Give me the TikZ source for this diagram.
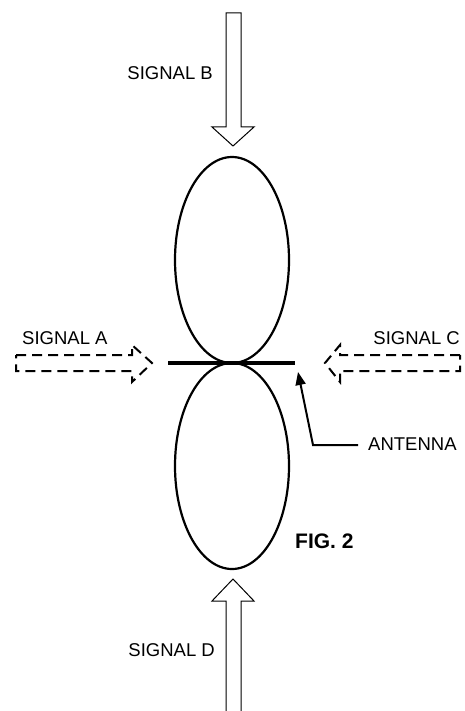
\documentclass[tikz,border=0pt]{standalone}
\usepackage{fontspec}
\setmainfont{Liberation Sans}
\usetikzlibrary{arrows.meta}
\begin{document}
\begin{tikzpicture}[x=1pt,y=-1pt,
  lbl/.style={font=\fontsize{18.5}{20}\selectfont, inner sep=0pt},
  figlbl/.style={font=\fontsize{21}{23}\selectfont\bfseries, inner sep=0pt},
  hollow/.style={draw=black, line width=1pt, fill=white, line join=miter},
  dasharrow/.style={draw=black, line width=2pt, dash pattern=on 10pt off 6pt},
  lobe/.style={draw=black, line width=2.2pt},
  rod/.style={draw=black, line width=4pt},
  pointer/.style={draw=black, line width=2pt, -{Triangle[length=13pt,width=10pt]}}]
\fill[white] (0,0) rectangle (465,711);
\path[use as bounding box] (0,0) rectangle (465,711);
% lobes
\draw[lobe] (232,260) ellipse [x radius=57, y radius=103];
\draw[lobe] (232,466) ellipse [x radius=57, y radius=103];
% antenna rod
\draw[rod] (168,363) -- (295,363);
% signal B (from top)
\draw[hollow] (226,13) -- (241,13) -- (241,127) -- (254,127) -- (233,146) -- (212,127) -- (226,127) -- cycle;
% signal D (from bottom)
\draw[hollow] (226,715) -- (226,601) -- (212,601) -- (233,579) -- (254,601) -- (241,601) -- (241,715);
% signal A (dashed, from left)
\draw[dasharrow] (16,355) -- (132,355) -- (132,345) -- (152,363) -- (132,382) -- (132,371) -- (16,371) -- cycle;
% signal C (dashed, from right)
\draw[dasharrow] (460,355) -- (340,355) -- (340,345) -- (325,363) -- (340,382) -- (340,371) -- (460,371) -- cycle;
% labels
\node[lbl, anchor=east] (lb) at (213,73) {SIGNAL B};
\node[lbl, anchor=east] (ld) at (215,650) {SIGNAL D};
\node[lbl, anchor=west] (la) at (22,338) {SIGNAL A};
\node[lbl, anchor=east] (lc) at (460,338) {SIGNAL C};
\node[lbl, anchor=west] (antl) at (368,444) {ANTENNA};
\node[figlbl, anchor=west] (fig) at (295,541) {FIG. 2};
% antenna pointer
\coordinate (pend) at (358,445);
\coordinate (pbend) at (313,445);
\coordinate (ptip) at (298,372);
\draw[pointer] (pend) -- (pbend) -- (ptip);
\end{tikzpicture}
\end{document}
